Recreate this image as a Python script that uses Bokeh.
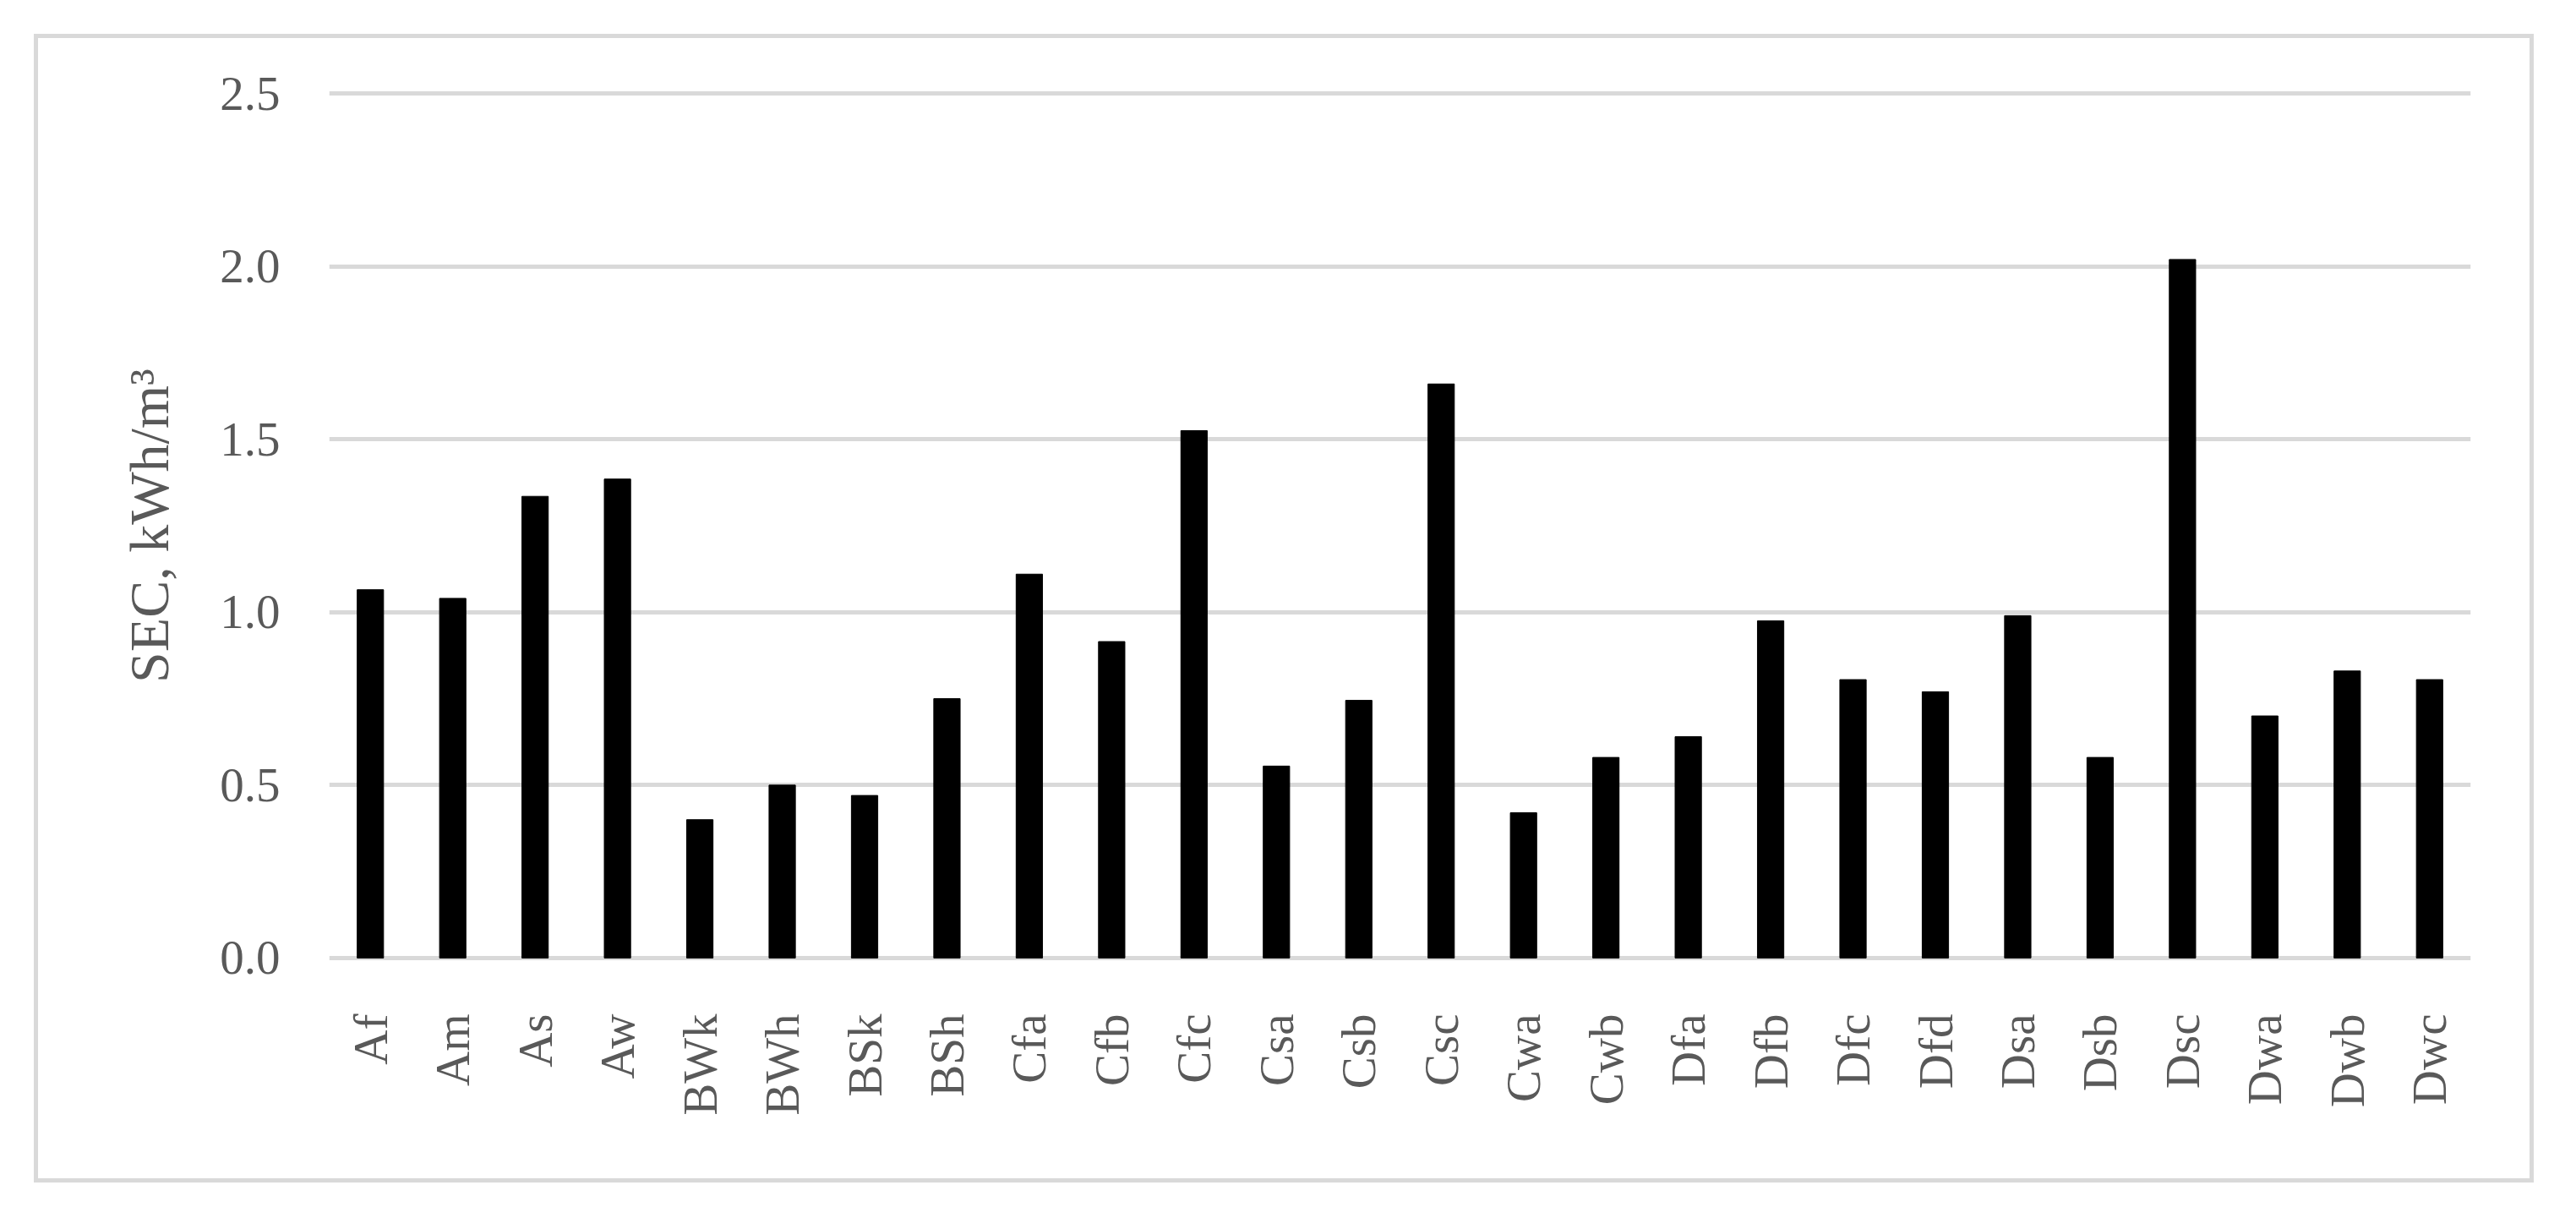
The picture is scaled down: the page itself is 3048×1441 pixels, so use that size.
import math
from bokeh.plotting import figure
from bokeh.models import FactorRange, Range1d, FixedTicker, PrintfTickFormatter, ColumnDataSource
from bokeh.embed import file_html
from bokeh.resources import INLINE

climates = ["Af", "Am", "As", "Aw", "BWk", "BWh", "BSk", "BSh", "Cfa", "Cfb", "Cfc",
            "Csa", "Csb", "Csc", "Cwa", "Cwb", "Dfa", "Dfb", "Dfc", "Dfd", "Dsa",
            "Dsb", "Dsc", "Dwa", "Dwb", "Dwc"]
sec_values = [1.065, 1.04, 1.335, 1.385, 0.40, 0.50, 0.47, 0.75, 1.11, 0.915, 1.525,
              0.555, 0.745, 1.66, 0.42, 0.58, 0.64, 0.975, 0.805, 0.77, 0.99,
              0.58, 2.02, 0.70, 0.83, 0.805]
y_ticks = [0.0, 0.5, 1.0, 1.5, 2.0, 2.5]
y_label = "SEC, kWh/m³"

FONT = "Liberation Serif"
TEXT = "#595959"
GRID = "#D9D9D9"

W, H = 2948, 1349
p = figure(width=W, height=H, output_backend="svg", toolbar_location=None,
           x_range=FactorRange(*climates, range_padding=0),
           y_range=Range1d(-0.01, 2.51),
           min_border_left=344, min_border_right=80,
           min_border_top=61, min_border_bottom=267)
p.styles = {"border": "5px solid #D9D9D9", "box-sizing": "content-box",
            "margin-left": "40px", "margin-top": "40px"}

src = ColumnDataSource(dict(x=climates, top=sec_values))
p.vbar(x="x", top="top", bottom=0, width=0.32, source=src,
       fill_color="black", line_color="black", line_width=1)

p.outline_line_color = None
p.background_fill_color = "white"
p.border_fill_color = "white"

p.xgrid.grid_line_color = None
p.ygrid.grid_line_color = GRID
p.ygrid.grid_line_width = 5
p.ygrid.ticker = FixedTicker(ticks=y_ticks)

ya = p.yaxis[0]
ya.ticker = FixedTicker(ticks=y_ticks)
ya.formatter = PrintfTickFormatter(format="%.1f")
ya.axis_line_color = None
ya.major_tick_line_color = None
ya.minor_tick_line_color = None
ya.major_tick_out = 0
ya.major_tick_in = 0
ya.major_label_standoff = 58
ya.major_label_text_font = FONT
ya.major_label_text_font_size = "57px"
ya.major_label_text_color = TEXT
ya.axis_label = y_label
ya.axis_label_text_font = FONT
ya.axis_label_text_font_size = "66px"
ya.axis_label_text_font_style = "normal"
ya.axis_label_text_color = TEXT
ya.axis_label_standoff = 44

xa = p.xaxis[0]
xa.axis_line_color = None
xa.major_tick_line_color = None
xa.minor_tick_line_color = None
xa.major_tick_out = 0
xa.major_tick_in = 0
xa.major_label_standoff = 62
xa.major_label_orientation = math.pi / 2
xa.major_label_text_font = FONT
xa.major_label_text_font_size = "57px"
xa.major_label_text_color = TEXT

open("out.html", "w").write(file_html(p, INLINE))
